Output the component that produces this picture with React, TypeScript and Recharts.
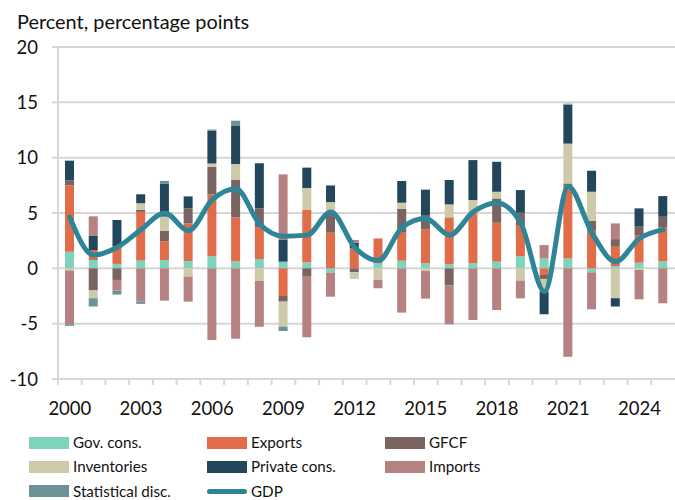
import {
  ComposedChart,
  Bar,
  Line,
  XAxis,
  YAxis,
  CartesianGrid,
} from "recharts";

const years = [
  2000, 2001, 2002, 2003, 2004, 2005, 2006, 2007, 2008, 2009, 2010, 2011, 2012,
  2013, 2014, 2015, 2016, 2017, 2018, 2019, 2020, 2021, 2022, 2023, 2024, 2025,
];

const govCons = [
  1.5, 0.75, 0.4, 0.7, 0.75, 0.66, 1.1, 0.63, 0.84, 0.6, 0.54, -0.39, 0, 0.45,
  0.69, 0.45, 0.36, 0.48, 0.6, 1.11, 0.9, 0.9, -0.36, 0.2, 0.51, 0.63,
];
const exportsC = [
  6.0, 0.9, 1.6, 4.4, 1.7, 3.4, 5.57, 3.98, 2.86, -2.5, 4.76, 3.22, 1.8, 2.25,
  2.53, 3.07, 4.25, 4.49, 3.52, 2.8, -0.6, 6.57, 3.4, 1.75, 2.5, 3.07,
];
const gfcf = [
  0.45, -2.0, -1.05, 0.18, 0.93, 1.36, 2.5, 3.37, 1.72, -0.51, -0.69, 1.9, -0.35,
  0, 2.14, 1.3, -1.54, 0, 2.2, 1.11, -0.36, 0.2, 0.9, 0.69, 0.81, 0.96,
];
const inventories = [
  -0.2, -0.7, 0, 0.6, 1.3, -0.75, 0.3, 1.45, -1.14, -2.26, 1.96, 0.87, -0.6,
  -1.05, 0.57, -0.24, 1.17, 1.2, 0.6, -1.11, -1.14, 3.6, 2.62, -2.7, -0.15, 0,
];
const privateCons = [
  1.78, 1.27, 2.37, 0.81, 2.95, 1.08, 2.95, 3.43, 4.07, 1.96, 1.84, 1.5, 0.52, 0,
  1.96, 2.29, 2.2, 3.61, 2.71, 2.05, -2.05, 3.52, 1.9, -0.75, 1.6, 1.87,
];
const imports = [
  -4.85, 1.78, -0.96, -3.0, -2.92, -2.26, -6.48, -6.36, -4.13, 5.93, -5.54,
  -2.17, 0.24, -0.75, -4.0, -2.5, -3.52, -4.67, -3.77, -1.6, 1.2, -7.98, -3.34,
  1.42, -2.65, -3.16,
];
const statDisc = [
  -0.15, -0.75, -0.36, -0.21, 0.27, 0, 0.12, 0.48, 0, -0.39, 0, 0, 0, 0, 0, 0, 0,
  0, 0, 0, 0, 0.09, 0, 0, 0, 0,
];
const gdp = [
  4.6, 1.2, 1.9, 3.5, 5.0, 3.4, 6.2, 7.2, 4.0, 2.9, 3.0, 5.1, 1.9, 0.7, 3.7, 4.5,
  3.0, 5.1, 5.9, 4.1, -2.1, 7.4, 3.2, 0.6, 2.7, 3.5,
];

const yTicks = [-10, -5, 0, 5, 10, 15, 20];

const series = [
  { key: "govCons", name: "Gov. cons.", color: "#7fd3ba" },
  { key: "exports", name: "Exports", color: "#e06c4a" },
  { key: "gfcf", name: "GFCF", color: "#7a6461" },
  { key: "inventories", name: "Inventories", color: "#cdcaa9" },
  { key: "privateCons", name: "Private cons.", color: "#22465c" },
  { key: "imports", name: "Imports", color: "#b58181" },
  { key: "statDisc", name: "Statistical disc.", color: "#6c9196" },
];
const gdpColor = "#2e8597";

const data = years.map((year, i) => ({
  year,
  govCons: govCons[i],
  exports: exportsC[i],
  gfcf: gfcf[i],
  inventories: inventories[i],
  privateCons: privateCons[i],
  imports: imports[i],
  statDisc: statDisc[i],
  gdp: gdp[i],
}));

const W = 675;
const H = 500;
const LEFT = 58;
const GRID = "#d6d6d6";
const FONT = "Lato, 'Open Sans', sans-serif";
const band = (W - LEFT) / years.length;

function YearTick(props: any) {
  const { x, y, payload } = props;
  const yr = Number(payload.value);
  return (
    <g>
      <line
        x1={x - band / 2}
        x2={x - band / 2}
        y1={y}
        y2={y + 6}
        stroke={GRID}
        strokeWidth={2}
      />
      {(yr - 2000) % 3 === 0 && (
        <text
          x={x}
          y={y + 36}
          textAnchor="middle"
          fontSize={18.5}
          fontFamily={FONT}
          fill="#111"
        >
          {yr}
        </text>
      )}
    </g>
  );
}

function ChartLegend() {
  const items = [
    ...series.slice(0, 6),
    series[6],
    { key: "gdp", name: "GDP", color: gdpColor },
  ];
  return (
    <div
      style={{
        position: "absolute",
        left: 29,
        top: 434,
        display: "grid",
        gridTemplateColumns: "178px 178px 178px",
        rowGap: 7.3,
        fontFamily: FONT,
        fontSize: 15.2,
        color: "#111",
      }}
    >
      {items.map((it) => (
        <div
          key={it.key}
          style={{
            display: "flex",
            alignItems: "center",
            height: 17,
            lineHeight: "17px",
          }}
        >
          {it.key === "gdp" ? (
            <span
              style={{
                display: "inline-block",
                width: 40,
                height: 5,
                borderRadius: 3,
                background: it.color,
                marginRight: 4,
              }}
            />
          ) : (
            <span
              style={{
                display: "inline-block",
                width: 40,
                height: 12,
                background: it.color,
                marginRight: 4,
              }}
            />
          )}
          <span>{it.name}</span>
        </div>
      ))}
    </div>
  );
}

export default function App() {
  return (
    <div
      style={{
        position: "absolute",
        left: 0,
        top: 0,
        width: W,
        height: H,
        overflow: "hidden",
        background: "#fff",
      }}
    >
      <div
        style={{
          position: "absolute",
          left: 17,
          top: 12,
          fontFamily: FONT,
          fontSize: 19.9,
          lineHeight: "19px",
          color: "#111",
        }}
      >
        Percent, percentage points
      </div>
      <ComposedChart
        width={W}
        height={H}
        data={data}
        stackOffset="sign"
        margin={{ top: 47, right: 0, bottom: 0, left: 0 }}
        barCategoryGap={0}
      >
        <CartesianGrid vertical={false} stroke={GRID} strokeWidth={2} />
        <XAxis
          dataKey="year"
          height={121}
          interval={0}
          tick={<YearTick />}
          tickLine={false}
          tickSize={0}
          tickMargin={0}
          axisLine={{ stroke: GRID, strokeWidth: 2 }}
        />
        <YAxis
          width={LEFT}
          domain={[-10, 20]}
          ticks={yTicks}
          tickSize={6}
          tickMargin={14}
          tickLine={{ stroke: GRID, strokeWidth: 2 }}
          axisLine={{ stroke: GRID, strokeWidth: 2 }}
          tick={{ fontSize: 18.5, fill: "#111", fontFamily: FONT }}
        />
        {series.map((s) => (
          <Bar
            key={s.key}
            dataKey={s.key}
            name={s.name}
            stackId="s"
            fill={s.color}
            barSize={9}
            isAnimationActive={false}
          />
        ))}
        <Line
          dataKey="gdp"
          name="GDP"
          type="monotone"
          stroke={gdpColor}
          strokeWidth={5}
          strokeLinecap="round"
          dot={false}
          activeDot={false}
          isAnimationActive={false}
        />
      </ComposedChart>
      <ChartLegend />
    </div>
  );
}
